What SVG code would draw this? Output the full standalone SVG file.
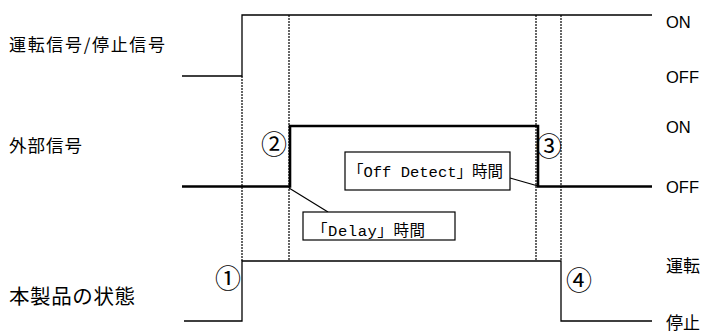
<svg xmlns="http://www.w3.org/2000/svg" width="707" height="334" viewBox="0 0 707 334">
<style>
.sig{fill:none;stroke:#000;stroke-width:1.3}
.thick{fill:none;stroke:#000;stroke-width:2.6}
.dot{fill:none;stroke:#000;stroke-width:1.2;stroke-dasharray:2 1}
.lead{fill:none;stroke:#000;stroke-width:1.2}
.box{fill:#fff;stroke:#000;stroke-width:1.2}
.jp{font-family:"Noto Sans CJK JP","Noto Sans CJK SC",sans-serif;fill:#000}
.en{font-family:"Liberation Sans",Arial,sans-serif;font-size:16.5px;fill:#000}
.mono{font-family:"Liberation Mono","Noto Sans CJK JP",monospace;font-size:15.5px;fill:#000}
.num{font-family:"Noto Sans CJK JP","DejaVu Sans",sans-serif;font-size:26px;fill:#000;text-anchor:middle}
</style>
<rect width="707" height="334" fill="#fff"/>
<g id="guides">
<line class="dot" x1="242" y1="76" x2="242" y2="261"/>
<line class="dot" x1="289" y1="15" x2="289" y2="261"/>
<line class="dot" x1="536" y1="15" x2="536" y2="261"/>
<line class="dot" x1="561" y1="15" x2="561" y2="261"/>
</g>
<g id="run-signal">
<polyline class="sig" points="182,76 242,76 242,15 652,15"/>
<text class="jp" x="9" y="51" font-size="17" textLength="156">運転信号/停止信号</text>
<text class="en" x="666" y="28">ON</text>
<text class="en" x="666" y="83">OFF</text>
</g>
<g id="external-signal">
<polyline class="thick" points="182,186.5 290,186.5 290,126 538,126 538,186.5 652,186.5"/>
<text class="jp" x="9" y="152" font-size="17.5" textLength="73">外部信号</text>
<text class="en" x="666" y="133">ON</text>
<text class="en" x="666" y="193">OFF</text>
</g>
<g id="product-state">
<polyline class="sig" points="184,321 242,321 242,261 561,261 561,321 652,321"/>
<text class="jp" x="9" y="304" font-size="20.5" textLength="126">本製品の状態</text>
<text class="jp" x="666" y="272" font-size="17">運転</text>
<text class="jp" x="666" y="329" font-size="17">停止</text>
</g>
<g id="markers">
<text class="num" x="274" y="154">②</text>
<text class="num" x="228" y="288">①</text>
<text class="num" x="549" y="156">③</text>
<text class="num" x="579" y="290">④</text>
</g>
<g id="connectors">
<line class="lead" x1="289" y1="188" x2="328" y2="212"/>
<line class="lead" x1="510" y1="178" x2="538" y2="186"/>
</g>
<g id="off-detect-box">
<rect class="box" x="345" y="152" width="165" height="38"/>
<text class="mono" x="348" y="177" textLength="155">「Off Detect」時間</text>
</g>
<g id="delay-box">
<rect class="box" x="303" y="212" width="152" height="28"/>
<text class="mono" x="312" y="236" textLength="113">「Delay」時間</text>
</g>
</svg>
